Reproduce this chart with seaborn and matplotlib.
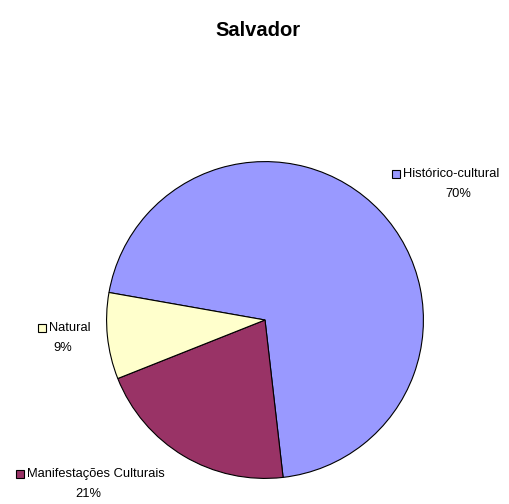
import seaborn as sns
import matplotlib.pyplot as plt
from matplotlib.patches import Rectangle

# Tourist attractions in Salvador, share by type
categories = ['Histórico-cultural', 'Manifestações Culturais', 'Natural']
shares = [70.4, 20.8, 8.8]
colors = ['#9999FF', '#993366', '#FFFFCC']

sns.set_style('white')
plt.rcParams['font.family'] = ['Liberation Sans', 'DejaVu Sans']
plt.rcParams['text.color'] = 'black'

W, H = 509, 504
fig = plt.figure(figsize=(W / 100, H / 100), dpi=100)

# pie area: centre (265, 320) px, radius 160 px
cx, cy, r = 265, 320, 160
ax = fig.add_axes([(cx - r) / W, (H - cy - r) / H, 2 * r / W, 2 * r / H])
ax.pie(shares, colors=colors, startangle=170, counterclock=False,
       wedgeprops=dict(edgecolor='black', linewidth=0.8))
ax.set_xlim(-1.01, 1.01)
ax.set_ylim(-1.01, 1.01)
ax.axis('off')

fig.text(258 / W, 1 - 30 / H, 'Salvador', ha='center', va='center',
         fontsize=14.5, fontweight='bold')

# labels: (key square left x, key y, text centre x) in pixels
label_pos = [(392, 174, 458), (16, 474, 88), (38, 328, 63)]
for name, val, col, (kx, ky, tx) in zip(categories, shares, colors, label_pos):
    fig.patches.append(Rectangle((kx / W, 1 - (ky + 4) / H), 8 / W, 8 / H,
                                 transform=fig.transFigure, facecolor=col,
                                 edgecolor='black', linewidth=0.8))
    fig.text((kx + 11) / W, 1 - ky / H, name, ha='left', va='center',
             fontsize=9.3)
    fig.text(tx / W, 1 - (ky + 20) / H, f'{val:.0f}%', ha='center',
             va='center', fontsize=9.3)

plt.savefig('out.png', dpi=100)
